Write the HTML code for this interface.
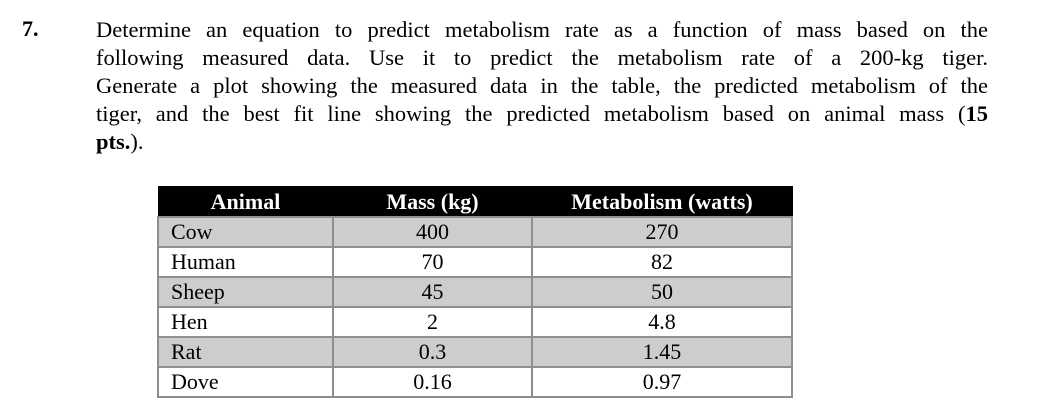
<!DOCTYPE html>
<html><head><meta charset="utf-8"><style>
body{margin:0;width:1060px;height:420px;background:#fff;font-family:"Liberation Serif","Times New Roman","DejaVu Serif","Noto Serif CJK SC",serif;color:#000;overflow:hidden;position:relative}
.num{position:absolute;left:22px;top:16px;font-size:22px;font-weight:bold}
.para{position:absolute;left:96px;top:16px;width:892px;font-size:22.5px;line-height:28px}
.ln{text-align:justify;text-align-last:justify;white-space:nowrap;height:28px}
.ln.last{text-align-last:left}
table{position:absolute;left:157px;top:186px;border-collapse:collapse;font-size:22px;width:636px;font-family:inherit}
th{background:#000;color:#fff;font-weight:bold;height:29px;padding:0;border:1px solid #000}
td{height:28px;padding:0 0 0 12px;border:2px solid #8e8e8e;line-height:26px}
td.c{text-align:center;padding:0}
tr.g td{background:#cdcdcd}
</style></head><body>
<div class="num">7.</div>
<div class="para">
<div class="ln">Determine an equation to predict metabolism rate as a function of mass based on the</div>
<div class="ln">following measured data. Use it to predict the metabolism rate of a 200-kg tiger.</div>
<div class="ln">Generate a plot showing the measured data in the table, the predicted metabolism of the</div>
<div class="ln">tiger, and the best fit line showing the predicted metabolism based on animal mass (<b>15</b></div>
<div class="ln last"><b>pts.</b>).</div>
</div>
<table>
<tr><th style="width:174px">Animal</th><th style="width:198px">Mass (kg)</th><th>Metabolism (watts)</th></tr>
<tr class="g"><td>Cow</td><td class="c">400</td><td class="c">270</td></tr>
<tr><td>Human</td><td class="c">70</td><td class="c">82</td></tr>
<tr class="g"><td>Sheep</td><td class="c">45</td><td class="c">50</td></tr>
<tr><td>Hen</td><td class="c">2</td><td class="c">4.8</td></tr>
<tr class="g"><td>Rat</td><td class="c">0.3</td><td class="c">1.45</td></tr>
<tr><td>Dove</td><td class="c">0.16</td><td class="c">0.97</td></tr>
</table>
</body></html>
